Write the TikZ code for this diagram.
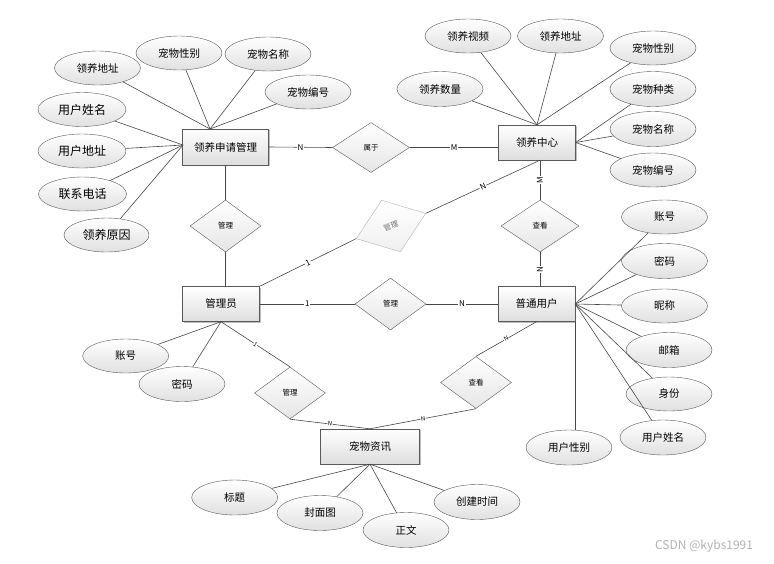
\documentclass[tikz,border=0pt]{standalone}
\usepackage{fontspec}
\setmainfont{Noto Sans CJK SC}
\usetikzlibrary{shapes.geometric,shadows}

\begin{document}
\begin{tikzpicture}[x=1pt,y=-1pt,
  line/.style={draw=black!72, line width=0.6pt},
  entity/.style={rectangle, draw=black!65, top color=white, bottom color=black!13, minimum width=77pt, minimum height=35pt, inner sep=0pt, font=\fontsize{10.5}{12}\selectfont, drop shadow={shadow xshift=1pt, shadow yshift=-1pt, fill=black, opacity=0.25}},
  attr/.style={ellipse, draw=black!65, top color=white, bottom color=black!12, minimum width=86pt, minimum height=34pt, inner sep=0pt, font=\fontsize{10.5}{12}\selectfont},
  bigattr/.style={attr, minimum width=88pt, font=\fontsize{12}{14}\selectfont},
  rel/.style={diamond, draw=black!65, top color=white, bottom color=black!10, minimum width=71pt, minimum height=52pt, inner sep=0pt, font=\fontsize{7.5}{8}\selectfont},
  card/.style={fill=white, inner sep=0.8pt, font=\fontsize{8}{8}\selectfont},
  tiny/.style={fill=white, inner sep=0.4pt, font=\fontsize{6}{6}\selectfont, sloped}
]
  \useasboundingbox (0,0) rectangle (774,563);

  % Entities
  \node[entity, minimum width=86pt, minimum height=36pt] (APP) at (225.5,147) {领养申请管理};
  \node[entity] (CEN) at (537,142.5) {领养中心};
  \node[entity] (ADM) at (221,304) {管理员};
  \node[entity] (USR) at (536.5,304) {普通用户};
  \node[entity, minimum width=99pt] (NEWS) at (370,446.5) {宠物资讯};

  % Relations
  \node[rel, minimum width=77pt, minimum height=50pt] (BEL) at (371,147.5) {属于};
  \node[rel] (MGA) at (225.5,226) {管理};
  \node[rel, draw=black!30, text=black!55, top color=white, bottom color=black!6, rotate=20, minimum width=74pt, minimum height=55pt] (MGB) at (391,226) {管理};
  \node[rel, minimum width=78pt] (VWA) at (540,226) {查看};
  \node[rel] (MGC) at (390.5,304) {管理};
  \node[rel] (MGD) at (290,393) {管理};
  \node[rel] (VWB) at (476,382.5) {查看};

  % Attributes of 领养申请管理
  \coordinate (APPt) at (210,129);
  \coordinate (APPl) at (183,145);
  \node[attr] (A1) at (97.5,68) {领养地址};
  \node[attr] (A2) at (179,53) {宠物性别};
  \node[attr] (A3) at (268,54) {宠物名称};
  \node[attr] (A4) at (308,92) {宠物编号};
  \node[bigattr] (A5) at (82,109.5) {用户姓名};
  \node[bigattr] (A6) at (82,151) {用户地址};
  \node[bigattr] (A7) at (82.5,194) {联系电话};
  \node[bigattr, minimum width=85pt] (A8) at (106.5,235) {领养原因};

  % Attributes of 领养中心
  \node[attr] (C1) at (468,36) {领养视频};
  \node[attr] (C2) at (560.5,36) {领养地址};
  \node[attr] (C3) at (653,48) {宠物性别};
  \node[attr, minimum height=35pt] (C4) at (440,89) {领养数量};
  \node[attr, minimum height=35pt] (C5) at (653,89) {宠物种类};
  \node[attr, minimum height=35pt] (C6) at (653,129) {宠物名称};
  \node[attr] (C7) at (653,170) {宠物编号};

  % Attributes of 普通用户
  \node[attr] (U1) at (664.5,217) {账号};
  \node[attr, minimum height=35pt] (U2) at (664.5,261) {密码};
  \node[attr] (U3) at (664.5,306) {昵称};
  \node[attr, minimum height=35pt] (U4) at (669,350) {邮箱};
  \node[attr] (U5) at (669,394) {身份};
  \node[attr, minimum height=35pt] (U6) at (663,437.5) {用户姓名};
  \node[attr, minimum height=35pt] (U7) at (569,447.5) {用户性别};

  % Attributes of 管理员
  \node[attr] (M1) at (125.7,356) {账号};
  \node[attr, minimum height=35pt] (M2) at (182,384) {密码};

  % Attributes of 宠物资讯
  \node[attr, minimum height=35pt] (N1) at (234.7,497.5) {标题};
  \node[attr, minimum height=35pt] (N2) at (320,513) {封面图};
  \node[attr, minimum height=35pt] (N3) at (406,530) {正文};
  \node[attr, minimum height=35pt] (N4) at (477,502) {创建时间};

  \node[text=black!30, font=\fontsize{12}{14}\selectfont] (WM) at (704,546) {CSDN @kybs1991};

  % Attribute edges
  \draw[line] (A1) -- (APPt);
  \draw[line] (A2) -- (APPt);
  \draw[line] (A3) -- (APPt);
  \draw[line] (A4) -- (APPt);
  \draw[line] (A5) -- (APPl);
  \draw[line] (A6) -- (APPl);
  \draw[line] (A7) -- (APPl);
  \draw[line] (A8) -- (APPl);
  \draw[line] (C1) -- (CEN.north);
  \draw[line] (C2) -- (CEN.north);
  \draw[line] (C3) -- (CEN.north);
  \draw[line] (C4) -- (CEN.north);
  \draw[line] (C5) -- (CEN.east);
  \draw[line] (C6) -- (CEN.east);
  \draw[line] (C7) -- (CEN.east);
  \draw[line] (U1) -- (USR.east);
  \draw[line] (U2) -- (USR.east);
  \draw[line] (U3) -- (USR.east);
  \draw[line] (U4) -- (USR.east);
  \draw[line] (U5) -- (USR.east);
  \draw[line] (U6) -- (USR.east);
  \draw[line] (USR.south east) -- (USR.south east |- U7.north);
  \draw[line] (M1) -- (ADM.south);
  \draw[line] (M2) -- (ADM.south);
  \draw[line] (N1) -- (NEWS.south);
  \draw[line] (N2) -- (NEWS.south);
  \draw[line] (N3) -- (NEWS.south);
  \draw[line] (N4) -- (NEWS.south);

  % Relation edges
  \draw[line] (APP.east) -- node[card]{N} (BEL.west);
  \draw[line] (BEL.east) -- node[card]{M} (BEL.east -| CEN.west);
  \draw[line] (APP.south -| MGA.north) -- (MGA.north);
  \draw[line] (MGA.south) -- (MGA.south |- ADM.north);
  \draw[line] (ADM.north east) -- node[card, sloped]{1} (MGB.west);
  \draw[line] (MGB.east) -- node[card, sloped]{N} (CEN.south -| VWA.north);
  \draw[line] (CEN.south -| VWA.north) -- node[card, rotate=90]{M} (VWA.north);
  \draw[line] (VWA.south) -- node[card, rotate=90]{N} (VWA.south |- USR.north);
  \draw[line] (ADM.east) -- node[card]{1} (MGC.west);
  \draw[line] (MGC.east) -- node[card]{N} (USR.west);
  \draw[line] (ADM.south) -- node[tiny]{1} (MGD.north);
  \draw[line] (MGD.south) -- node[tiny]{N} (NEWS.north);
  \draw[line] (USR.south) -- node[tiny]{N} (VWB.north);
  \draw[line] (VWB.south) -- node[tiny]{N} (NEWS.north);
\end{tikzpicture}
\end{document}
